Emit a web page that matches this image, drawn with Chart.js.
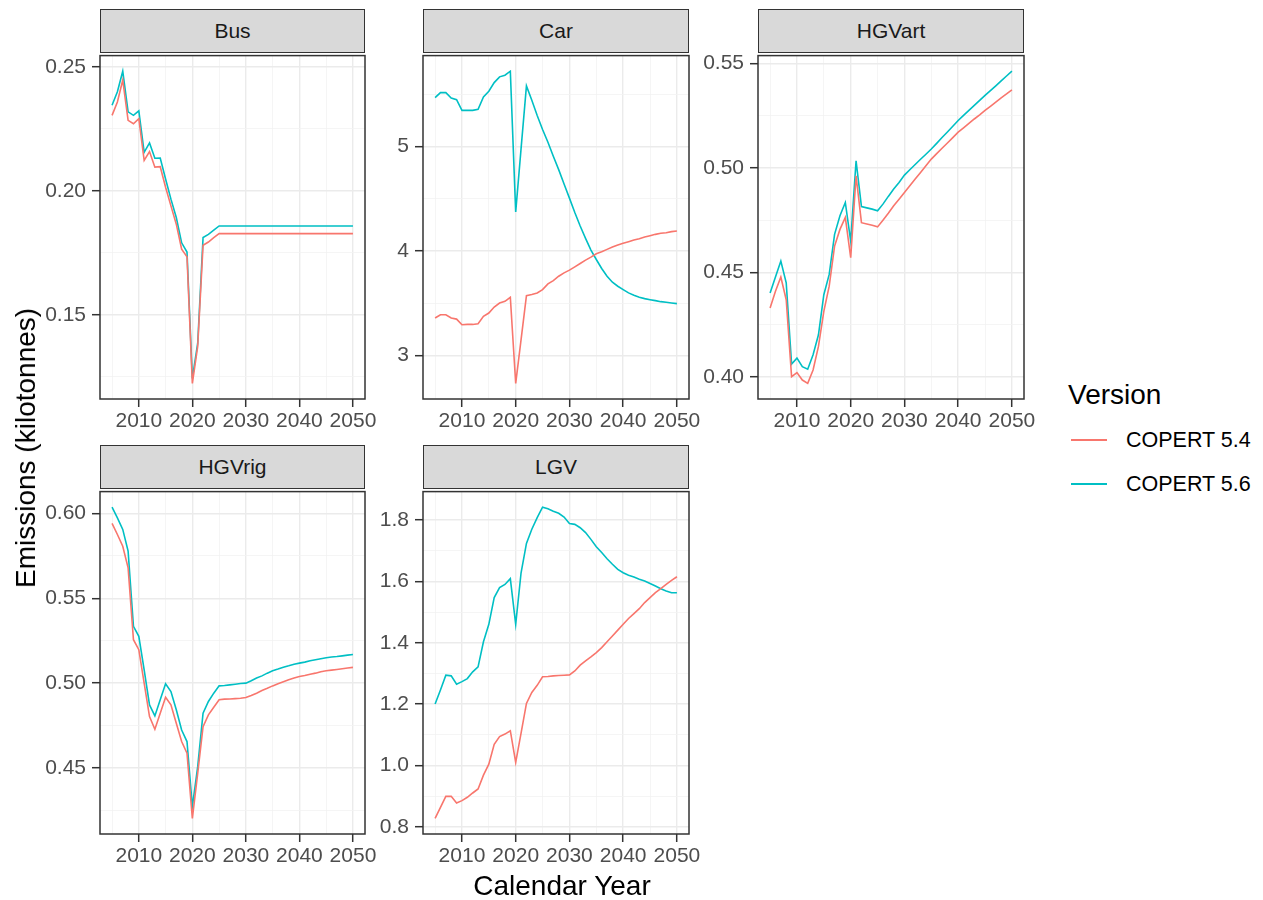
<!DOCTYPE html>
<html>
<head>
<meta charset="utf-8">
<title>Emissions by vehicle type</title>
<script src="https://cdn.jsdelivr.net/npm/chart.js@4.4.1/dist/chart.umd.min.js"></script>
<style>
  body { margin: 0; background: #fff; font-family: "Liberation Sans", Arial, sans-serif; }
  #wrap { position: relative; width: 1263px; height: 900px; overflow: hidden; }
  #wrap canvas { position: absolute; }
  .strip { position: absolute; box-sizing: border-box; background: #D9D9D9; border: 1.5px solid #333;
           color: #1A1A1A; font-size: 21px; display: flex; align-items: center; justify-content: center; }
  .title { position: absolute; font-size: 28px; line-height: 1; color: #000; white-space: nowrap; }
  .key { position: absolute; width: 36px; height: 2px; }
  .keylab { position: absolute; font-size: 21.5px; line-height: 1; color: #000; white-space: nowrap; }
</style>
</head>
<body>
<div id="wrap"></div>
<script>
// facet data, one value per calendar year
const years = [2005,2006,2007,2008,2009,2010,2011,2012,2013,2014,2015,2016,2017,2018,2019,2020,2021,2022,2023,2024,2025,
  2026,2027,2028,2029,2030,2031,2032,2033,2034,2035,2036,2037,2038,2039,2040,2041,2042,2043,2044,2045,2046,2047,2048,2049,2050];
const versions = ['COPERT 5.4', 'COPERT 5.6'];
const colours = ['#F8766D', '#00BFC4'];

const busV54 = [0.2304,0.2358,0.2446,0.2284,0.2270,0.2291,0.2122,0.2158,0.2095,0.2097,0.2014,0.1939,0.1865,0.1764,0.1734,0.1223,0.1372,0.1780,0.1793,0.1811,0.1827,
  0.1827,0.1827,0.1827,0.1827,0.1827,0.1827,0.1827,0.1827,0.1827,0.1827,0.1827,0.1827,0.1827,0.1827,0.1827,0.1827,0.1827,0.1827,0.1827,0.1827,0.1827,0.1827,0.1827,0.1827,0.1827];
const busV56 = [0.2345,0.2399,0.2482,0.2318,0.2304,0.2322,0.2155,0.2193,0.2131,0.2132,0.2047,0.1966,0.1892,0.1790,0.1753,0.1243,0.1385,0.1811,0.1824,0.1841,0.1858,
  0.1858,0.1858,0.1858,0.1858,0.1858,0.1858,0.1858,0.1858,0.1858,0.1858,0.1858,0.1858,0.1858,0.1858,0.1858,0.1858,0.1858,0.1858,0.1858,0.1858,0.1858,0.1858,0.1858,0.1858,0.1858];

const carV54 = [3.357,3.389,3.389,3.357,3.347,3.293,3.296,3.296,3.302,3.373,3.405,3.463,3.501,3.517,3.556,2.731,3.150,3.572,3.582,3.598,3.630,
  3.684,3.716,3.758,3.790,3.816,3.848,3.880,3.912,3.941,3.973,3.992,4.015,4.037,4.056,4.073,4.089,4.105,4.117,4.133,4.146,4.159,4.169,4.175,4.185,4.191];
const carV56 = [5.469,5.517,5.517,5.465,5.449,5.347,5.347,5.347,5.356,5.475,5.530,5.613,5.668,5.684,5.722,4.374,4.980,5.581,5.443,5.298,5.164,
  5.042,4.907,4.779,4.641,4.506,4.368,4.239,4.121,4.008,3.918,3.832,3.758,3.700,3.662,3.630,3.598,3.575,3.556,3.543,3.533,3.524,3.514,3.508,3.501,3.495];

const hgvartV54 = [0.4329,0.4410,0.4478,0.4369,0.4000,0.4020,0.3984,0.3968,0.4032,0.4145,0.4313,0.4434,0.4626,0.4706,0.4763,0.4570,0.4963,0.4738,0.4732,0.4726,0.4718,
  0.4750,0.4783,0.4819,0.4851,0.4883,0.4915,0.4947,0.4979,0.5011,0.5043,0.5069,0.5095,0.5120,0.5146,0.5172,0.5193,0.5214,0.5235,0.5255,0.5276,0.5296,0.5316,0.5336,0.5355,0.5375];
const hgvartV56 = [0.4401,0.4478,0.4554,0.4450,0.4061,0.4089,0.4048,0.4036,0.4105,0.4201,0.4393,0.4490,0.4682,0.4771,0.4835,0.4650,0.5035,0.4815,0.4809,0.4803,0.4795,
  0.4827,0.4864,0.4899,0.4931,0.4966,0.4992,0.5017,0.5042,0.5066,0.5091,0.5118,0.5146,0.5173,0.5200,0.5228,0.5252,0.5276,0.5300,0.5324,0.5348,0.5371,0.5394,0.5418,0.5441,0.5464];

const hgvrigV54 = [0.5941,0.5876,0.5807,0.5679,0.5256,0.5197,0.5000,0.4803,0.4728,0.4823,0.4917,0.4872,0.4764,0.4656,0.4587,0.4203,0.4469,0.4744,0.4813,0.4858,0.4902,
  0.4906,0.4907,0.4909,0.4911,0.4915,0.4927,0.4941,0.4957,0.4970,0.4984,0.4996,0.5008,0.5020,0.5030,0.5039,0.5045,0.5053,0.5059,0.5067,0.5073,0.5077,0.5081,0.5085,0.5089,0.5093];
const hgvrigV56 = [0.6037,0.5974,0.5906,0.5778,0.5335,0.5276,0.5079,0.4872,0.4807,0.4902,0.4996,0.4951,0.4843,0.4724,0.4656,0.4272,0.4508,0.4823,0.4892,0.4941,0.4984,
  0.4986,0.4990,0.4994,0.4998,0.5000,0.5014,0.5030,0.5043,0.5059,0.5073,0.5083,0.5094,0.5102,0.5112,0.5118,0.5124,0.5132,0.5138,0.5144,0.5150,0.5154,0.5157,0.5161,0.5165,0.5169];

const lgvV54 = [0.827,0.863,0.899,0.899,0.877,0.885,0.896,0.910,0.923,0.968,1.004,1.069,1.094,1.102,1.113,1.010,1.105,1.202,1.238,1.261,1.289,
  1.290,1.292,1.293,1.294,1.295,1.308,1.327,1.341,1.354,1.368,1.384,1.403,1.422,1.441,1.460,1.479,1.495,1.511,1.531,1.547,1.563,1.576,1.590,1.603,1.615];
const lgvV56 = [1.200,1.246,1.294,1.292,1.265,1.273,1.283,1.305,1.321,1.403,1.460,1.547,1.580,1.590,1.609,1.460,1.628,1.724,1.770,1.808,1.842,
  1.837,1.829,1.822,1.810,1.789,1.786,1.775,1.759,1.737,1.713,1.694,1.674,1.656,1.639,1.628,1.620,1.614,1.607,1.601,1.593,1.585,1.576,1.569,1.563,1.563];

// axis breaks
const yearTicks = [2010, 2020, 2030, 2040, 2050];
const busTicks = [0.15, 0.20, 0.25];
const carTicks = [3, 4, 5];
const hgvartTicks = [0.40, 0.45, 0.50, 0.55];
const hgvrigTicks = [0.45, 0.50, 0.55, 0.60];
const lgvTicks = [0.8, 1.0, 1.2, 1.4, 1.6, 1.8];

const panels = [
  { name: 'Bus',    series: [busV54, busV56],       ticks: busTicks,    dp: 2, col: 0, row: 0 },
  { name: 'Car',    series: [carV54, carV56],       ticks: carTicks,    dp: 0, col: 1, row: 0 },
  { name: 'HGVart', series: [hgvartV54, hgvartV56], ticks: hgvartTicks, dp: 2, col: 2, row: 0 },
  { name: 'HGVrig', series: [hgvrigV54, hgvrigV56], ticks: hgvrigTicks, dp: 2, col: 0, row: 1 },
  { name: 'LGV',    series: [lgvV54, lgvV56],       ticks: lgvTicks,    dp: 1, col: 1, row: 1 }
];

// layout (px)
const colLeft = [100, 423, 758];
const colWidth = [265, 266, 266];
const rowTop = [52, 488];
const rowHeight = [343, 342];
const stripH = 43, yAxisW = 70, xAxisH = 40, padTop = 15, padRight = 24;

const wrap = document.getElementById('wrap');

// ggplot-style minor breaks: halfway between majors, plus half a step beyond the ends
function withMinors(majors, lo, hi) {
  const step = majors[1] - majors[0];
  const out = majors.map(v => ({ value: v, minor: false }));
  for (let i = -1; i < majors.length; i++) {
    const m = majors[0] + step * (i + 0.5);
    if (m >= lo && m <= hi) out.push({ value: m, minor: true });
  }
  return out.sort((a, b) => a.value - b.value);
}

const frame = {
  id: 'frame',
  afterDraw(chart) {
    const a = chart.chartArea, c = chart.ctx;
    c.save();
    c.strokeStyle = '#333';
    c.lineWidth = 1.5;
    c.strokeRect(a.left, a.top, a.right - a.left, a.bottom - a.top);
    c.restore();
  }
};

const gridOpts = {
  color: ctx => (ctx.tick && ctx.tick.minor) ? '#F3F3F3' : '#EBEBEB',
  lineWidth: ctx => (ctx.tick && ctx.tick.minor) ? 0.8 : 1.4,
  tickColor: ctx => (ctx.tick && ctx.tick.minor) ? 'rgba(0,0,0,0)' : '#333',
  tickWidth: 1.5,
  tickLength: 8,
  drawTicks: true
};
const tickFont = { family: '"Liberation Sans", Arial, sans-serif', size: 21 };

panels.forEach(p => {
  const left = colLeft[p.col], top = rowTop[p.row];
  const w = colWidth[p.col], h = rowHeight[p.row];

  const strip = document.createElement('div');
  strip.className = 'strip';
  strip.style.left = left + 'px';
  strip.style.top = (top - stripH) + 'px';
  strip.style.width = w + 'px';
  strip.style.height = (stripH + 1) + 'px';
  strip.textContent = p.name;
  wrap.appendChild(strip);

  const cv = document.createElement('canvas');
  const cw = yAxisW + w + padRight, ch = padTop + h + xAxisH + 4;
  cv.width = cw; cv.height = ch;
  cv.style.width = cw + 'px'; cv.style.height = ch + 'px';
  cv.style.left = (left - yAxisW) + 'px';
  cv.style.top = (top - padTop) + 'px';
  wrap.appendChild(cv);

  const all = p.series[0].concat(p.series[1]);
  const lo = Math.min(...all), hi = Math.max(...all);
  const ymin = lo - 0.05 * (hi - lo), ymax = hi + 0.05 * (hi - lo);
  const xmin = years[0] - 0.05 * (years[years.length - 1] - years[0]);
  const xmax = years[years.length - 1] + 0.05 * (years[years.length - 1] - years[0]);

  new Chart(cv, {
    type: 'line',
    data: {
      datasets: p.series.map((s, k) => ({
        label: versions[k],
        data: years.map((yr, i) => ({ x: yr, y: s[i] })),
        borderColor: colours[k],
        borderWidth: 1.6,
        pointRadius: 0,
        tension: 0,
        fill: false
      }))
    },
    options: {
      responsive: false,
      animation: false,
      layout: { padding: { top: padTop, right: padRight, left: 0, bottom: 0 } },
      plugins: { legend: { display: false }, tooltip: { enabled: false } },
      scales: {
        x: {
          type: 'linear', bounds: 'data', min: xmin, max: xmax,
          afterBuildTicks: s => { s.ticks = withMinors(yearTicks, xmin, xmax); },
          afterFit: s => { s.height = xAxisH; },
          border: { display: false },
          grid: gridOpts,
          ticks: {
            autoSkip: false, maxRotation: 0, padding: 2, color: '#4D4D4D', font: tickFont,
            callback: (v, i, t) => t[i].minor ? '' : String(v)
          }
        },
        y: {
          type: 'linear', bounds: 'data', min: ymin, max: ymax,
          afterBuildTicks: s => { s.ticks = withMinors(p.ticks, ymin, ymax); },
          afterFit: s => { s.width = yAxisW; },
          border: { display: false },
          grid: gridOpts,
          ticks: {
            autoSkip: false, padding: 6, color: '#4D4D4D', font: tickFont,
            callback: (v, i, t) => t[i].minor ? '' : Number(v).toFixed(p.dp)
          }
        }
      }
    },
    plugins: [frame]
  });
});

// axis titles
const xTitle = document.createElement('div');
xTitle.className = 'title';
xTitle.textContent = 'Calendar Year';
xTitle.style.left = '362px'; xTitle.style.width = '400px'; xTitle.style.textAlign = 'center';
xTitle.style.top = '872px';
wrap.appendChild(xTitle);

const yTitle = document.createElement('div');
yTitle.className = 'title';
yTitle.textContent = 'Emissions (kilotonnes)';
yTitle.style.left = '26px'; yTitle.style.top = '448px';
yTitle.style.transform = 'translate(-50%, -50%) rotate(-90deg)';
wrap.appendChild(yTitle);

// legend
const legTitle = document.createElement('div');
legTitle.className = 'title';
legTitle.textContent = 'Version';
legTitle.style.left = '1068px'; legTitle.style.top = '381px';
wrap.appendChild(legTitle);

versions.forEach((v, k) => {
  const y = 440 + k * 44;
  const key = document.createElement('div');
  key.className = 'key';
  key.style.left = '1071px'; key.style.top = (y - 1) + 'px';
  key.style.background = colours[k];
  wrap.appendChild(key);
  const lab = document.createElement('div');
  lab.className = 'keylab';
  lab.textContent = v;
  lab.style.left = '1126px'; lab.style.top = (y - 10.5) + 'px';
  wrap.appendChild(lab);
});
</script>
</body>
</html>
